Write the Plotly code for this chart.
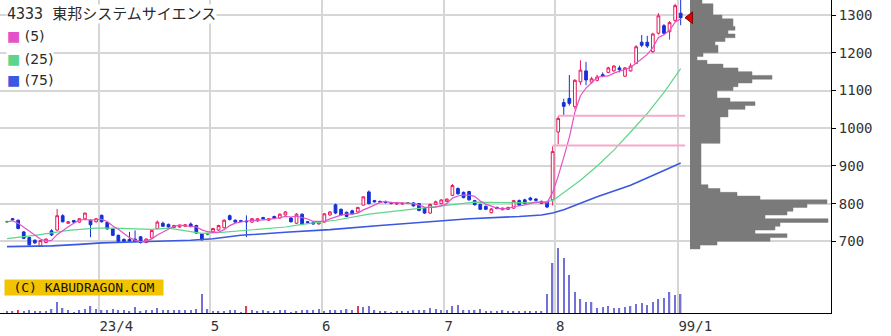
import plotly.graph_objects as go
import pandas as pd

TITLE = "4333 東邦システムサイエンス"
COPYRIGHT = "(C) KABUDRAGON.COM"

# ---- daily candles (trading-day index 0 .. 121) ----
opens = [752, 760, 756, 725, 710, 703, 687, 697, 728, 730, 768, 748, 755, 751, 760, 756, 752, 769, 750, 733,
         716, 705, 705, 706, 712, 697, 709, 734, 748, 745, 737, 738, 740, 746, 742, 720, 719, 725, 730, 736,
         768, 756, 755, 754, 751, 754, 763, 756, 766, 762, 770, 762, 748, 772, 752, 750, 746, 751, 770, 797,
         785, 777, 781, 778, 796, 831, 808, 806, 805, 803, 799, 799, 802, 802, 800, 788, 775, 798, 800, 806,
         822, 840, 830, 832, 808, 798, 793, 776, 790, 784, 785, 788, 808, 810, 815, 812, 806, 805, 810, 990,
         1068, 1079, 1057, 1123, 1152, 1122, 1127, 1142, 1148, 1152, 1160, 1138, 1152, 1172, 1228, 1228, 1203, 1252, 1272, 1256,
         1286, 1305]
highs = [755, 762, 758, 727, 712, 705, 704, 708, 732, 786, 772, 754, 757, 761, 776, 758, 762, 771, 752, 735,
         718, 708, 725, 729, 714, 708, 731, 755, 752, 747, 744, 745, 746, 750, 744, 722, 722, 736, 744, 758,
         771, 758, 757, 769, 762, 761, 765, 761, 768, 774, 780, 764, 775, 774, 754, 752, 753, 775, 780, 800,
         787, 779, 784, 791, 820, 835, 810, 808, 808, 805, 802, 803, 804, 804, 802, 790, 800, 808, 811, 814,
         852, 843, 832, 834, 810, 800, 795, 788, 792, 790, 792, 810, 811, 813, 818, 815, 808, 807, 952, 1032,
         1078, 1141, 1130, 1180, 1176, 1136, 1142, 1148, 1163, 1167, 1166, 1162, 1172, 1220, 1247, 1245, 1253, 1305, 1276, 1284,
         1330, 1340]
lows = [749, 755, 732, 706, 688, 693, 685, 695, 714, 728, 750, 746, 749, 749, 758, 711, 750, 750, 731, 714,
        697, 697, 698, 697, 694, 695, 707, 732, 738, 736, 735, 736, 738, 737, 720, 702, 716, 723, 728, 734,
        755, 749, 751, 711, 749, 752, 758, 754, 759, 760, 768, 750, 746, 743, 748, 744, 745, 750, 768, 772,
        768, 764, 771, 776, 795, 798, 803, 801, 800, 798, 797, 797, 799, 792, 780, 773, 773, 796, 798, 804,
        820, 824, 814, 808, 795, 783, 783, 774, 785, 782, 783, 786, 794, 798, 808, 807, 799, 788, 795, 957,
        1034, 1060, 1050, 1115, 1114, 1118, 1124, 1135, 1146, 1150, 1148, 1136, 1150, 1170, 1215, 1213, 1200, 1248, 1248, 1235,
        1282, 1273]
closes = [752, 757, 734, 708, 691, 696, 702, 706, 717, 768, 752, 752, 751, 760, 775, 744, 760, 752, 733, 716,
          699, 700, 701, 700, 697, 706, 729, 751, 740, 738, 742, 743, 744, 739, 722, 704, 719, 734, 742, 756,
          758, 751, 753, 752, 760, 760, 760, 760, 761, 772, 778, 752, 772, 745, 750, 746, 751, 773, 778, 775,
          770, 766, 773, 790, 818, 800, 805, 804, 803, 801, 801, 801, 802, 794, 782, 775, 798, 805, 810, 812,
          848, 826, 816, 810, 797, 785, 785, 786, 787, 788, 790, 808, 796, 800, 810, 809, 801, 791, 938, 1026,
          1058, 1066, 1127, 1154, 1128, 1131, 1136, 1138, 1160, 1165, 1155, 1160, 1165, 1216, 1220, 1218, 1250, 1298, 1252, 1280,
          1325, 1293]
# volume (thousand shares)
volume = [10, 10, 15, 10, 15, 10, 10, 10, 20, 55, 25, 15, 5, 15, 20, 35, 20, 15, 15, 20,
          15, 15, 10, 30, 10, 15, 15, 25, 15, 15, 15, 15, 15, 15, 20, 95, 20, 10, 10, 10,
          15, 15, 5, 35, 15, 10, 15, 10, 10, 15, 15, 5, 10, 15, 15, 15, 20, 10, 15, 15,
          15, 20, 15, 35, 30, 35, 15, 10, 10, 5, 10, 10, 10, 15, 15, 15, 25, 20, 15, 15,
          35, 40, 15, 15, 15, 20, 10, 10, 10, 15, 10, 10, 10, 10, 10, 10, 10, 95, 250, 325,
          275, 190, 105, 70, 55, 55, 25, 30, 35, 25, 25, 30, 35, 45, 50, 40, 55, 70, 75, 105,
          90, 95]
red_volume_days = [2, 43, 63]

# moving averages (25- and 75-day)
ma25_day = [0, 5, 11, 16, 19, 26, 29, 35, 38, 44, 50, 53, 59, 65, 71, 77, 81, 84, 89, 95, 98, 101, 103, 106, 109, 112, 115, 118, 121]
ma25_val = [707, 716, 729, 735, 735, 732, 735, 721, 723, 731, 738, 745, 756, 772, 782, 791, 798, 804, 803, 802, 808, 840, 862, 900, 942, 990, 1039, 1095, 1158]
ma75_day = [0, 8, 13, 17, 24, 33, 37, 42, 50, 58, 67, 75, 83, 92, 96, 98, 100, 106, 112, 118, 121]
ma75_val = [686, 688, 692, 696, 699, 703, 707, 716, 724, 731, 742, 751, 760, 766, 770, 775, 784, 818, 849, 888, 908]

# unfilled gaps (day on which the gap opened)
gap_days = [99, 100]

# axis ticks
month_first_day = [17, 37, 57, 79, 99, 121]
month_labels = ["23/4", "5", "6", "7", "8", "99/1"]
price_ticks = [700, 800, 900, 1000, 1100, 1200, 1300]

# price-by-volume profile (10-yen bins, lower edge) and relative volume
profile_price = [680, 690, 700, 710, 720, 730, 740, 750, 760, 770, 780, 790, 800, 810, 820, 830, 840, 850, 860, 870,
                 880, 890, 900, 910, 920, 930, 940, 950, 960, 970, 980, 990, 1000, 1010, 1020, 1030, 1040, 1050, 1060, 1070,
                 1080, 1090, 1100, 1110, 1120, 1130, 1140, 1150, 1160, 1170, 1180, 1190, 1200, 1210, 1220, 1230, 1240, 1250, 1260, 1270,
                 1280, 1290, 1300, 1310, 1320, 1330]
profile_volume = [10, 27, 80, 97, 65, 85, 90, 138, 75, 97, 103, 117, 137, 70, 47, 30, 18, 11, 11, 11,
                  11, 11, 11, 11, 11, 11, 11, 11, 30, 30, 30, 30, 30, 30, 30, 38, 38, 55, 65, 40,
                  27, 27, 43, 48, 62, 82, 62, 48, 33, 17, 7, 13, 28, 28, 25, 35, 45, 38, 45, 43,
                  43, 32, 23, 23, 23, 12]
PROFILE_BIN = 10

# ---- colours / styles ----
C_UP = "#e8175d"
C_DOWN = "#1530d8"
C_DOJI = "#2a9a3a"
C_MA5 = "#e452c8"
C_MA25 = "#5cd68a"
C_MA75 = "#3a58e2"
C_GRID = "#d6d6d6"
MONO = "DejaVu Sans Mono, Noto Sans CJK JP"

df = pd.DataFrame(dict(o=opens, h=highs, l=lows, c=closes, v=volume))
n = len(df)
days = list(range(n))
ma5 = df.c.rolling(5, min_periods=1).mean()
doji = df.o == df.c
main = df[~doji]
dj = df[doji]

fig = go.Figure()

fig.add_trace(go.Scatter(x=ma75_day, y=ma75_val, mode="lines", line=dict(color=C_MA75, width=1.6), hoverinfo="skip"))
fig.add_trace(go.Scatter(x=ma25_day, y=ma25_val, mode="lines", line=dict(color=C_MA25, width=1.2), hoverinfo="skip"))
fig.add_trace(go.Scatter(x=days, y=ma5, mode="lines", line=dict(color=C_MA5, width=1.2), hoverinfo="skip"))

for d in gap_days:
    lvl = (highs[d - 1] + lows[d]) / 2
    fig.add_trace(go.Scatter(x=[d - 1, n - 1 + 0.8], y=[lvl, lvl], mode="lines",
                             line=dict(color="#f6aacb", width=2), hoverinfo="skip"))

fig.add_trace(go.Candlestick(
    x=main.index, open=main.o, high=main.h, low=main.l, close=main.c,
    increasing=dict(line=dict(color=C_UP, width=1), fillcolor="white"),
    decreasing=dict(line=dict(color=C_DOWN, width=1), fillcolor=C_DOWN),
    whiskerwidth=0))
fig.add_trace(go.Candlestick(
    x=dj.index, open=dj.o, high=dj.h, low=dj.l, close=dj.c,
    increasing=dict(line=dict(color=C_DOJI, width=1), fillcolor=C_DOJI),
    decreasing=dict(line=dict(color=C_DOJI, width=1), fillcolor=C_DOJI),
    whiskerwidth=0))

vol_colors = ["#d8405a" if d in red_volume_days else "#7272d6" for d in days]
fig.add_trace(go.Bar(x=days, y=volume, width=0.25, marker=dict(color=vol_colors, line_width=0),
                     xaxis="x", yaxis="y2", hoverinfo="skip"))

# price-by-volume profile as one solid step outline filled to the axis origin
prof_x, prof_y = [0], [profile_price[0]]
for p, v in zip(profile_price, profile_volume):
    prof_x += [v, v]
    prof_y += [p, p + PROFILE_BIN]
prof_x.append(0)
prof_y.append(profile_price[-1] + PROFILE_BIN)
fig.add_trace(go.Scatter(x=prof_x, y=prof_y, mode="lines", fill="tozerox", fillcolor="#7a7a7a",
                         line=dict(color="#7a7a7a", width=0.5), xaxis="x2", yaxis="y", hoverinfo="skip"))
fig.add_trace(go.Scatter(x=[0], y=[closes[-1]], xaxis="x2", yaxis="y", mode="markers",
                         marker=dict(symbol="triangle-left", size=10, color="#e60000",
                                     line=dict(color="#7a0000", width=1)), hoverinfo="skip"))

W, H = 891, 336
ML, MR, MT, MB = 0, 60, 0, 23
PW, PH = W - ML - MR, H - MT - MB


def px(x):
    return x / PW


def py(y):
    return 1 - y / PH


annotations = [
    dict(text=TITLE, x=px(6), y=py(14), xref="paper", yref="paper", xanchor="left", yanchor="middle",
         showarrow=False, font=dict(family=MONO, size=15, color="#2a2a2a"), bgcolor="white", borderpad=0),
    dict(text=COPYRIGHT, x=px(4), y=py(287), xref="paper", yref="paper", xanchor="left", yanchor="middle",
         showarrow=False, font=dict(family=MONO, size=13, color="#111"), bgcolor="#f2c300",
         width=156, height=13, borderpad=1),
]
for label, col, yy in [("(5)", C_MA5, 36), ("(25)", C_MA25, 58.5), ("(75)", C_MA75, 80)]:
    annotations.append(dict(text=f"<span style='color:{col}'>■</span>\u00a0{label}", x=px(6), y=py(yy),
                            xref="paper", yref="paper", xanchor="left", yanchor="middle", showarrow=False,
                            font=dict(family="DejaVu Sans", size=14, color="#2a2a2a"), bgcolor="white", borderpad=0))

fig.update_layout(
    width=W, height=H, margin=dict(l=ML, r=MR, t=MT, b=MB),
    paper_bgcolor="white", plot_bgcolor="white", showlegend=False,
    xaxis=dict(range=[-1.26, 148.0], tickvals=[d - 0.5 for d in month_first_day], ticktext=month_labels,
               ticklabelposition="outside right", ticks="", showgrid=True, gridcolor=C_GRID, gridwidth=1.5,
               showline=True, linecolor="black", linewidth=1, zeroline=False,
               rangeslider=dict(visible=False), tickfont=dict(family=MONO, size=14, color="#333")),
    yaxis=dict(side="right", range=[510, 1340], tickvals=price_ticks, showgrid=True, gridcolor=C_GRID,
               gridwidth=1.5, showline=True, linecolor="black", linewidth=1, ticks="outside", ticklen=4,
               tickcolor="black", zeroline=False, automargin=False,
               tickfont=dict(family=MONO, size=14, color="#333")),
    xaxis2=dict(overlaying="x", range=[-690, 141], visible=False),
    yaxis2=dict(overlaying="y", range=[0, 1565], visible=False),
    annotations=annotations,
)

fig.write_html("out.html")
